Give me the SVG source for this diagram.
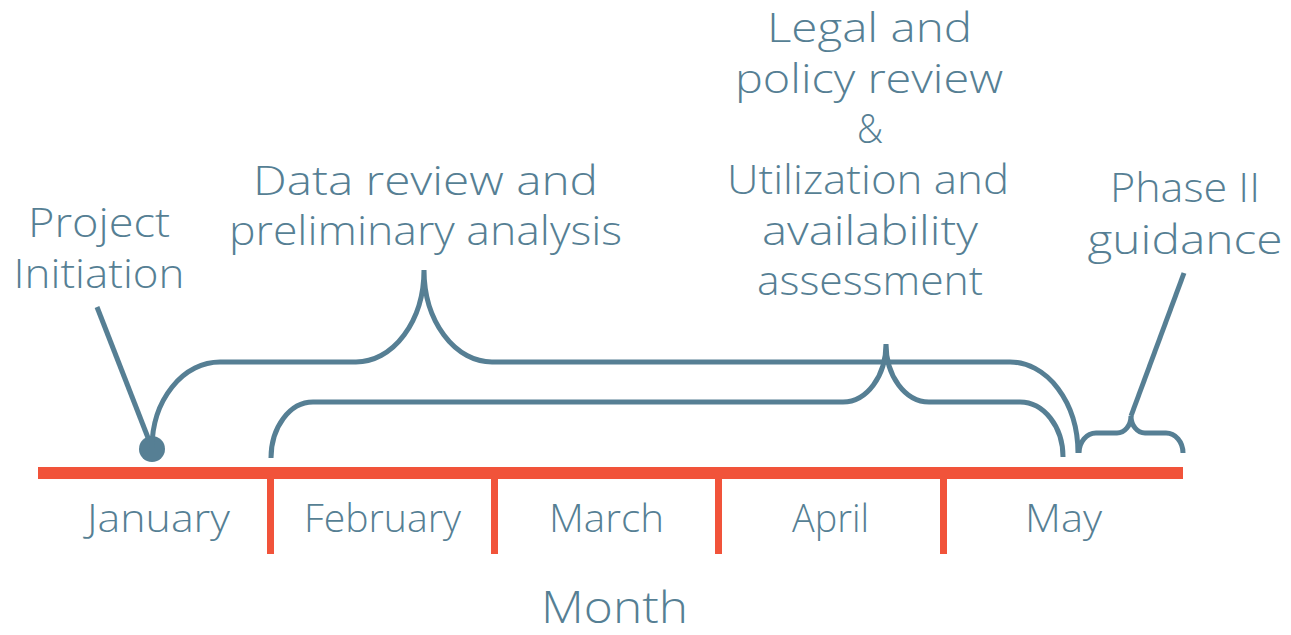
<svg xmlns="http://www.w3.org/2000/svg" width="1291" height="635" viewBox="0 0 1291 635">
<style>
.lbl{font-family:"Open Sans","Liberation Sans",sans-serif;font-weight:300;font-size:40px;fill:#567f94;text-anchor:middle}
.mon{font-family:"Open Sans","Liberation Sans",sans-serif;font-weight:300;font-size:39px;fill:#567f94;text-anchor:middle}
.ttl{font-family:"Open Sans","Liberation Sans",sans-serif;font-weight:300;font-size:44px;fill:#567f94;text-anchor:middle}
.con{fill:none;stroke:#567f94;stroke-width:5}
.axis{fill:#f1533a}
</style>
<rect width="1291" height="635" fill="#ffffff"/>
<g id="timeline">
<rect class="axis" x="38" y="467" width="1145" height="12"/>
<rect class="axis" x="267" y="479" width="7" height="75"/>
<rect class="axis" x="491" y="479" width="7" height="75"/>
<rect class="axis" x="715" y="479" width="7" height="75"/>
<rect class="axis" x="940" y="479" width="7" height="75"/>
</g>
<g id="months">
<text class="mon" x="158.5" y="532" textLength="143" lengthAdjust="spacingAndGlyphs">January</text>
<text class="mon" x="382.5" y="532" textLength="157" lengthAdjust="spacingAndGlyphs">February</text>
<text class="mon" x="606.5" y="532" textLength="115" lengthAdjust="spacingAndGlyphs">March</text>
<text class="mon" x="830.5" y="532" textLength="77" lengthAdjust="spacingAndGlyphs">April</text>
<text class="mon" x="1063.5" y="532" textLength="77" lengthAdjust="spacingAndGlyphs">May</text>
</g>
<g id="axis-title">
<text class="ttl" x="614.5" y="623" textLength="147" lengthAdjust="spacingAndGlyphs">Month</text>
</g>
<g id="project-initiation">
<text class="lbl" x="99" y="237" textLength="142" lengthAdjust="spacingAndGlyphs">Project</text>
<text class="lbl" x="99" y="288" textLength="171" lengthAdjust="spacingAndGlyphs">Initiation</text>
</g>
<g id="data-review">
<text class="lbl" x="425.5" y="195" textLength="345" lengthAdjust="spacingAndGlyphs">Data review and</text>
<text class="lbl" x="425.5" y="245" textLength="393" lengthAdjust="spacingAndGlyphs">preliminary analysis</text>
</g>
<g id="legal-review">
<text class="lbl" x="869.5" y="42" textLength="205" lengthAdjust="spacingAndGlyphs">Legal and</text>
<text class="lbl" x="869" y="93" textLength="268" lengthAdjust="spacingAndGlyphs">policy review</text>
<text class="lbl" x="870" y="143" textLength="26" lengthAdjust="spacingAndGlyphs">&amp;</text>
<text class="lbl" x="868" y="194" textLength="282" lengthAdjust="spacingAndGlyphs">Utilization and</text>
<text class="lbl" x="870" y="245" textLength="216" lengthAdjust="spacingAndGlyphs">availability</text>
<text class="lbl" x="870" y="295" textLength="226" lengthAdjust="spacingAndGlyphs">assessment</text>
</g>
<g id="phase-ii">
<text class="lbl" x="1185" y="202" textLength="150" lengthAdjust="spacingAndGlyphs">Phase II</text>
<text class="lbl" x="1185" y="254" textLength="195" lengthAdjust="spacingAndGlyphs">guidance</text>
</g>
<g id="connectors">
<line class="con" x1="97" y1="307" x2="152" y2="448"/>
<circle cx="152" cy="449" r="13" fill="#567f94"/>
<path class="con" d="M152,448 A68,86 0 0 1 220,362 H356 A68,92 0 0 0 424,270 A68,92 0 0 0 492,362 H1010 A68,91 0 0 1 1078,453"/>
<path class="con" d="M271,458 A42,56 0 0 1 313,402 H843 A43,58 0 0 0 886,344 A43,58 0 0 0 929,402 H1020 A43,55 0 0 1 1063,457"/>
<path class="con" d="M1079,453 A17,20 0 0 1 1096,433 H1117 A14,17 0 0 0 1131,416 A14,17 0 0 0 1145,433 H1166 A17,20 0 0 1 1183,453"/>
<line class="con" x1="1184" y1="273" x2="1131" y2="416"/>
</g>
</svg>
